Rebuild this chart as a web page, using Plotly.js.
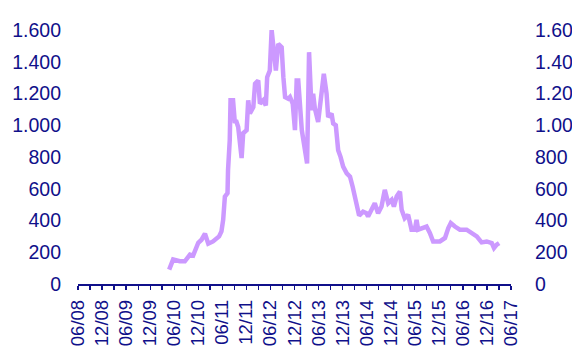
<!DOCTYPE html>
<html>
<head>
<meta charset="utf-8">
<script src="https://cdn.plot.ly/plotly-3.0.1.min.js"></script>
<style>html,body{margin:0;padding:0;background:#fff;}#chart{width:572px;height:348px;}</style>
</head>
<body>
<div id="chart"></div>
<script>
// Data
const dates = [
  '2010-04-24','2010-05-24','2010-07-14','2010-08-21','2010-09-29','2010-10-23','2010-12-01','2010-12-26',
  '2011-01-21','2011-02-15','2011-03-23','2011-05-08','2011-05-26','2011-06-08','2011-06-21','2011-07-11',
  '2011-07-15','2011-07-28','2011-08-03','2011-08-22','2011-09-05','2011-09-13','2011-09-30','2011-10-26',
  '2011-11-07','2011-12-03','2011-12-15','2011-12-28','2012-01-23','2012-02-05','2012-02-29','2012-03-13',
  '2012-04-07','2012-04-27','2012-05-07','2012-05-27','2012-06-10','2012-06-27','2012-07-12','2012-07-30',
  '2012-08-25','2012-09-07','2012-09-20','2012-10-14','2012-10-27','2012-11-17','2012-12-04','2012-12-17',
  '2012-12-29','2013-01-25','2013-02-18','2013-03-06','2013-03-21','2013-04-09','2013-04-21','2013-05-04',
  '2013-05-29','2013-06-24','2013-07-11','2013-08-01','2013-08-13','2013-09-08','2013-09-20','2013-10-10',
  '2013-10-28','2013-11-15','2013-12-05','2014-01-01','2014-01-26','2014-02-15','2014-03-03','2014-03-20',
  '2014-04-05','2014-05-05','2014-05-31','2014-06-12','2014-07-08','2014-08-02','2014-08-27','2014-09-22',
  '2014-10-17','2014-11-12','2014-12-08','2014-12-25','2015-01-15','2015-02-09','2015-02-22','2015-03-17',
  '2015-04-12','2015-05-08','2015-06-02','2015-06-15','2015-06-27','2015-07-23','2015-08-30','2015-09-24',
  '2015-10-19','2015-12-09','2016-01-17','2016-02-11','2016-03-01','2016-04-01','2016-05-09','2016-06-29',
  '2016-08-06','2016-09-14','2016-10-21','2016-11-29','2017-01-06','2017-01-23','2017-02-13','2017-03-03'
];
const values = [
  91,154,143,143,185,179,260,279,
  317,254,268,300,331,404,551,572,
  718,906,1157,1157,1013,1031,989,793,
  950,969,1157,1075,1115,1262,1282,1136,
  1157,1125,1303,1345,1600,1491,1345,1512,
  1491,1303,1178,1167,1178,1136,969,1282,
  1282,969,843,760,1460,1094,1199,1107,
  1021,1220,1324,1199,1052,1073,1011,1000,
  843,801,739,697,676,613,551,509,
  431,456,446,425,467,509,446,488,
  593,509,530,488,551,582,467,415,
  436,342,342,404,342,352,362,321,
  268,268,290,352,384,362,342,342,
  321,300,262,268,258,227,248,258
];
const xTickLabels = ['06/08','12/08','06/09','12/09','06/10','12/10','06/11','12/11','06/12','12/12',
  '06/13','12/13','06/14','12/14','06/15','12/15','06/16','12/16','06/17'];
const yTicks = [0,200,400,600,800,1000,1200,1400,1600];

const xTickVals = xTickLabels.map(function(l){
  const p = l.split('/');
  return '20' + p[1] + '-' + p[0] + '-01';
});

const navy = '#10108a';
const fontBase = {family: '"Liberation Sans", Arial, sans-serif', size: 19.5, color: navy};
const fontX = {family: '"Liberation Sans", Arial, sans-serif', size: 18.5, color: navy};

const trace = {
  x: dates, y: values, type: 'scatter', mode: 'lines',
  line: {color: '#cc99ff', width: 4.5, shape: 'linear'},
  hoverinfo: 'skip', showlegend: false
};
const trace2 = {x: [dates[0]], y: [values[0]], yaxis: 'y2', type: 'scatter', mode: 'lines',
  line: {width: 0}, hoverinfo: 'skip', showlegend: false};

const layout = {
  width: 572, height: 348,
  margin: {l: 78, r: 61, t: 29.5, b: 63.5, pad: 0},
  paper_bgcolor: '#ffffff', plot_bgcolor: '#ffffff',
  separators: ',.',
  font: fontBase,
  showlegend: false,
  xaxis: {
    type: 'date',
    range: [xTickVals[0], xTickVals[xTickVals.length - 1]],
    tickmode: 'array', tickvals: xTickVals, ticktext: xTickLabels,
    tickangle: -90,
    ticks: 'outside', ticklen: 4, tickwidth: 1.3, tickcolor: navy,
    minor: {dtick: 'M3', tick0: xTickVals[0], ticks: 'outside', ticklen: 4, tickwidth: 1.3, tickcolor: navy, showgrid: false},
    showline: true, linecolor: navy, linewidth: 1.5,
    showgrid: false, zeroline: false,
    tickfont: fontX, ticklabelstandoff: 3,
    fixedrange: true
  },
  yaxis: {
    range: [0, 1600], tickmode: 'array', tickvals: yTicks,
    tickformat: ',d', ticks: '', showline: false, showgrid: false, zeroline: false,
    tickfont: fontBase, ticklabelstandoff: 16, fixedrange: true
  },
  yaxis2: {
    range: [0, 1600], tickmode: 'array', tickvals: yTicks,
    tickformat: ',d', ticks: '', showline: false, showgrid: false, zeroline: false,
    overlaying: 'y', side: 'right',
    tickfont: fontBase, ticklabelstandoff: 23, fixedrange: true
  }
};

Plotly.newPlot('chart', [trace, trace2], layout, {displayModeBar: false, staticPlot: true});
</script>
</body>
</html>
